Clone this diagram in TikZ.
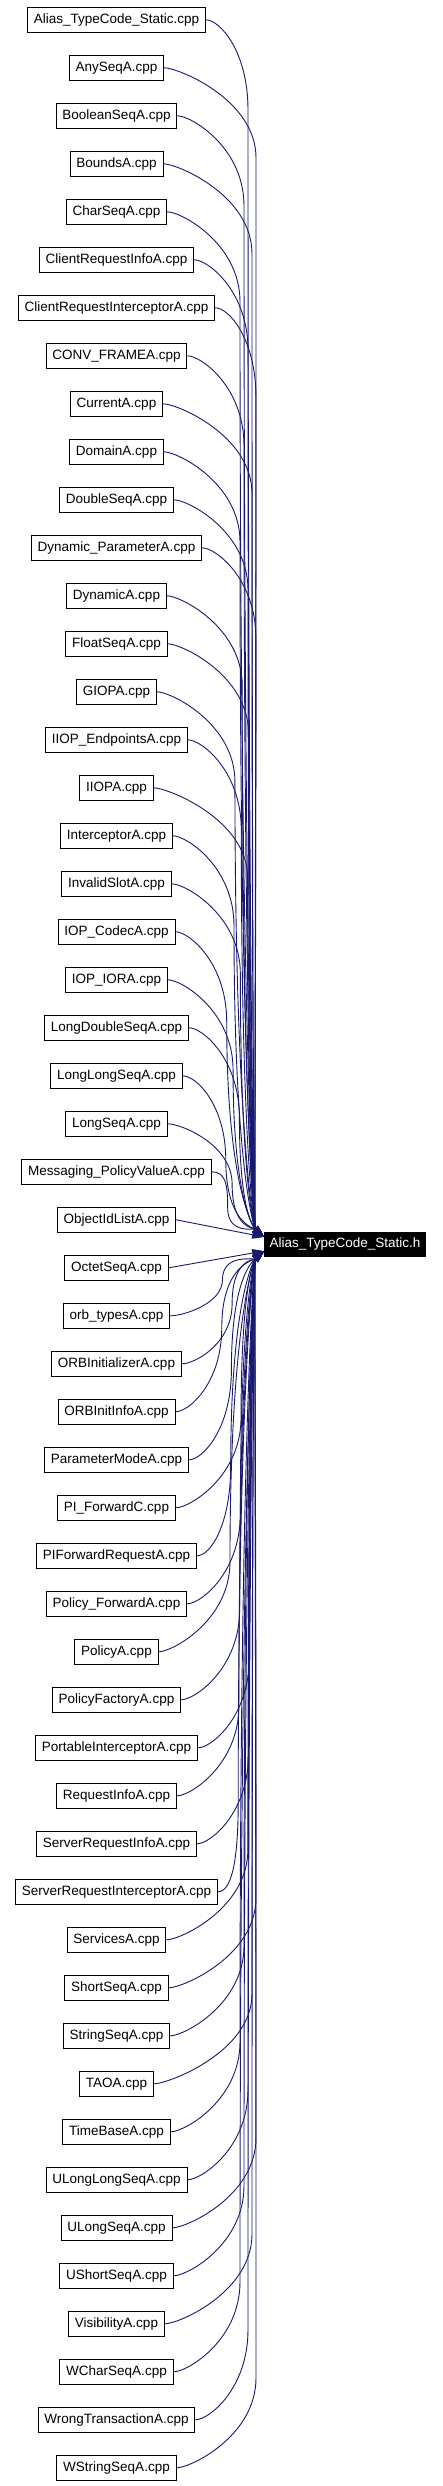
\documentclass[tikz,border=0pt]{standalone}
\usepackage{fontspec}
\setmainfont{Liberation Sans}
\usetikzlibrary{arrows.meta}
\definecolor{edgeblue}{RGB}{25,25,112}
\begin{document}
\begin{tikzpicture}[x=1pt,y=-1pt,
  src/.style={draw=black, fill=white, line width=0.9pt, font=\fontsize{13.5}{16}\selectfont,
    inner xsep=6.3pt, inner ysep=0pt, minimum height=25pt},
  tgt/.style={draw=black, fill=black, text=white, line width=0.9pt, font=\fontsize{13.5}{16}\selectfont,
    inner xsep=5pt, inner ysep=0pt, minimum height=24pt},
  edge/.style={draw=edgeblue, line width=0.9pt, -{Triangle[length=12pt,width=8pt]}}]
\fill[white] (0,0) rectangle (443,2486);
\path[use as bounding box] (0,0) rectangle (443,2486);
\foreach \t [count=\i] in {Alias\_TypeCode\_Static.cpp, AnySeqA.cpp, BooleanSeqA.cpp, BoundsA.cpp, CharSeqA.cpp,
  ClientRequestInfoA.cpp, ClientRequestInterceptorA.cpp, CONV\_FRAMEA.cpp, CurrentA.cpp, DomainA.cpp,
  DoubleSeqA.cpp, Dynamic\_ParameterA.cpp, DynamicA.cpp, FloatSeqA.cpp, GIOPA.cpp, IIOP\_EndpointsA.cpp,
  IIOPA.cpp, InterceptorA.cpp, InvalidSlotA.cpp, IOP\_CodecA.cpp, IOP\_IORA.cpp, LongDoubleSeqA.cpp,
  LongLongSeqA.cpp, LongSeqA.cpp, Messaging\_PolicyValueA.cpp, ObjectIdListA.cpp, OctetSeqA.cpp,
  orb\_typesA.cpp, ORBInitializerA.cpp, ORBInitInfoA.cpp, ParameterModeA.cpp, PI\_ForwardC.cpp,
  PIForwardRequestA.cpp, Policy\_ForwardA.cpp, PolicyA.cpp, PolicyFactoryA.cpp, PortableInterceptorA.cpp,
  RequestInfoA.cpp, ServerRequestInfoA.cpp, ServerRequestInterceptorA.cpp, ServicesA.cpp, ShortSeqA.cpp,
  StringSeqA.cpp, TAOA.cpp, TimeBaseA.cpp, ULongLongSeqA.cpp, ULongSeqA.cpp, UShortSeqA.cpp,
  VisibilityA.cpp, WCharSeqA.cpp, WrongTransactionA.cpp, WStringSeqA.cpp}
{
  \node[src] (n\i) at (116.5, {19.8+(\i-1)*48}) {\t};
}
\node[tgt] (t) at (345,1244) {Alias\_TypeCode\_Static.h};
\foreach \i in {1,...,52}{
  \path (n\i.east); \pgfgetlastxy{\xe}{\ye}
  \pgfmathsetmacro{\yi}{19.8+(\i-1)*48}
  \pgfmathsetmacro{\dy}{1244-\yi}
  \pgfmathsetmacro{\ad}{abs(\dy)}
  \pgfmathsetmacro{\s}{\dy>0 ? 1 : -1}
  \pgfmathsetmacro{\xb}{max(224+24*min(1,\ad/700)+4*mod(\i*7,5)-8, \xe+16)}
  \pgfmathsetmacro{\h}{min(90,\ad/2)}
  \pgfmathsetmacro{\ca}{\yi+\s*\h*0.35}
  \pgfmathsetmacro{\ym}{\yi+\s*\h}
  \pgfmathsetmacro{\cb}{\ym+\s*0.75*(\ad-\h)}
  \pgfmathsetmacro{\cc}{1244-\s*16}
  \pgfmathsetmacro{\sh}{\s*7}
  \ifdim\ad pt<50pt
    \draw[edge] (n\i.east) -- ([yshift=\sh pt]t.west);
  \else
    \draw[edge] (n\i.east) .. controls +(14,0) and (\xb,\ca) .. (\xb,\ym)
      .. controls (\xb,\cb) and (254,\cc) .. ([yshift=\sh pt]t.west);
  \fi
}
\end{tikzpicture}
\end{document}
